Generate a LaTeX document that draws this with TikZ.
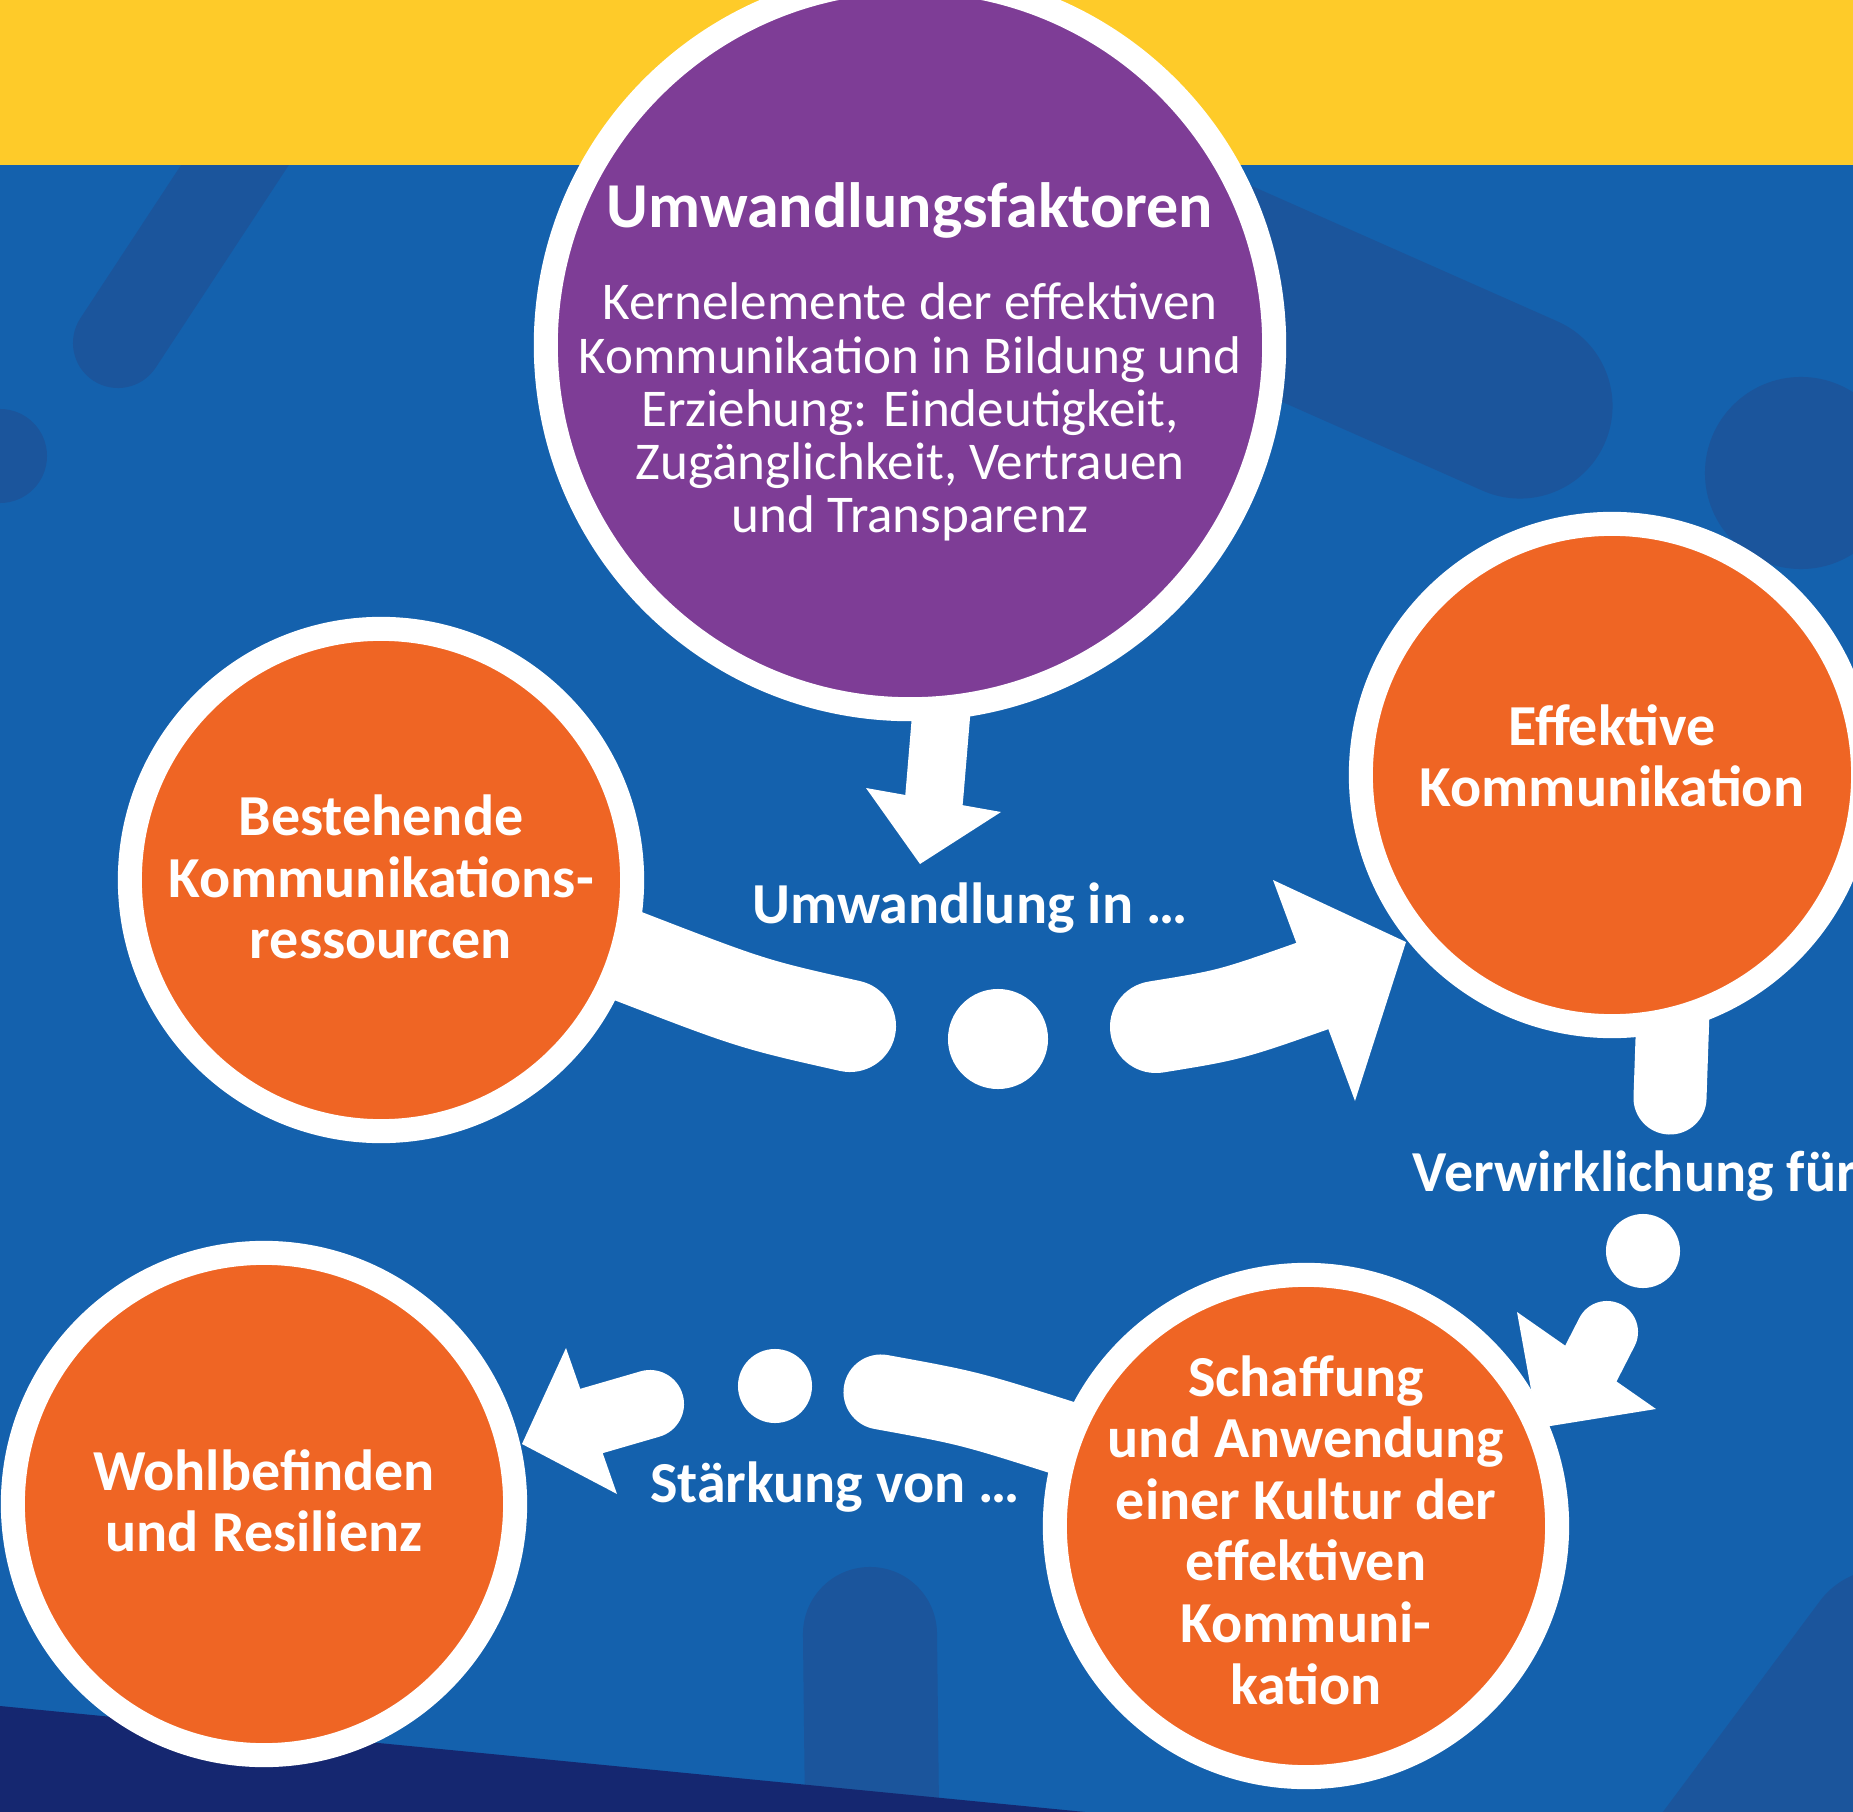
\documentclass[tikz,border=0pt]{standalone}
\usepackage{fontspec}
\setmainfont{Carlito}

\definecolor{sea}{HTML}{1461AD}
\definecolor{dusk}{HTML}{1B559C}
\definecolor{navy}{HTML}{152770}
\definecolor{sun}{HTML}{FECB29}
\definecolor{plum}{HTML}{7E3D96}
\definecolor{tangerine}{HTML}{EF6524}

\pgfdeclarelayer{deco}
\pgfdeclarelayer{flow}
\pgfsetlayers{deco,flow,main}

\begin{document}
\begin{tikzpicture}[x=0.01cm, y=-0.01cm,
  ring/.style={circle, draw=white, line width=0.24cm, fill=tangerine,
    inner sep=0pt, outer sep=0pt, minimum size=5.02cm},
  bigring/.style={ring, fill=plum, minimum size=7.28cm},
  lbl/.style={text=white, font=\bfseries\fontsize{16.5}{17.5}\selectfont,
    align=center, inner sep=0pt},
  titletext/.style={text=white, font=\bfseries\fontsize{18.2}{19}\selectfont, inner sep=0pt},
  bodytext/.style={text=white, font=\fontsize{15.1}{15.1}\selectfont,
    align=center, inner sep=0pt},
  band/.style={draw=dusk, line cap=round},
  shaft/.style={draw=white, line cap=round},
  blob/.style={circle, fill=white, inner sep=0pt, outer sep=0pt},
  head/.style={fill=white}
]
\useasboundingbox (0,0) rectangle (1853,1812);

% ---------- backdrop ----------
\begin{pgfonlayer}{deco}
  \fill[sea] (0,0) rectangle (1853,1812);
  \draw[band, line width=0.90cm] (118,343) -- (304,60);
  \fill[dusk] (0,456) circle[radius=0.47cm];
  \draw[band, line width=1.85cm] (1520,406) -- (1100,220);
  \fill[dusk] (1801,473) circle[radius=0.96cm];
  \draw[band, line width=1.34cm] (870,1634) -- (873,1900);
  \draw[band, line width=1.60cm] (1884,1649) -- (1651,1962);
  \fill[navy] (0,1706) -- (1085,1812) -- (0,1812) -- cycle;
  \fill[sun] (0,0) rectangle (1853,165);
\end{pgfonlayer}

% ---------- circles ----------
\node[bigring] (faktoren) at (910,345) {};
\node[ring] (bestand) at (381,880) {};
\node[ring] (effektiv) at (1612,775) {};
\node[ring] (kultur) at (1306,1526) {};
\node[ring] (wohl) at (264,1504) {};

\node[titletext, anchor=base] (faktorentitel) at (910,228) {Umwandlungsfaktoren};
\node[bodytext] (faktorentext) at (910,412)
  {Kernelemente der effektiven\\Kommunikation in Bildung und\\Erziehung: Eindeutigkeit,\\Zugänglichkeit, Vertrauen\\und Transparenz};

\node[lbl] (bestandtext) at (381,877) {Bestehende\\Kommunikations-\\ressourcen};
\node[lbl] (effektivtext) at (1612,756) {Effektive\\Kommunikation};
\node[lbl] (kulturtext) at (1306,1530)
  {Schaffung\\und Anwendung\\einer Kultur der\\effektiven\\Kommuni-\\kation};
\node[lbl] (wohltext) at (264,1501) {Wohlbefinden\\und Resilienz};

% ---------- connector captions ----------
\node[lbl, anchor=base] (umwandlung) at (970,923) {Umwandlung in …};
\node[lbl, anchor=base west] (verwirklichung) at (1412,1191) {Verwirklichung für};
\node[lbl, anchor=base] (staerkung) at (835,1502) {Stärkung von …};

% ---------- dots between the strokes ----------
\node[blob, minimum size=1.00cm] (dotA) at (998,1039) {};
\node[blob, minimum size=0.74cm] (dotB) at (1643,1251) {};
\node[blob, minimum size=0.74cm] (dotC) at (775,1386) {};

% ---------- connectors ----------
\coordinate (a1end) at (934,800);
\coordinate (a1l) at (866,788);
\coordinate (a1t) at (920,864);
\coordinate (a1r) at (1001,812);

\coordinate (a2mid) at (850,1026);
\coordinate (a2start) at (1156,1027);
\coordinate (a2end) at (1318,984);
\coordinate (a2l) at (1273,880);
\coordinate (a2t) at (1406,942);
\coordinate (a2r) at (1355,1101);

\coordinate (a3mid) at (1670,1098);
\coordinate (a3start) at (1607,1332);
\coordinate (a3end) at (1585,1375);
\coordinate (a3l) at (1517,1312);
\coordinate (a3t) at (1538,1428);
\coordinate (a3r) at (1656,1409);

\coordinate (a4mid) at (881,1392);
\coordinate (a4start) at (650,1404);
\coordinate (a4end) at (588,1422);
\coordinate (a4l) at (566,1348);
\coordinate (a4t) at (522,1444);
\coordinate (a4r) at (617,1494);

\begin{pgfonlayer}{flow}
  % Umwandlungsfaktoren -> Umwandlung
  \draw[shaft, line width=0.58cm] (faktoren.-85) -- (a1end);
  \fill[head] (a1l) -- (a1t) -- (a1r) -- cycle;

  % Bestehende Ressourcen -> Effektive Kommunikation
  \draw[shaft, line width=0.92cm] (bestand.-17) .. controls (752,1004) .. (a2mid);
  \draw[shaft, line width=0.92cm] (a2start) .. controls (1230,1015) .. (a2end);
  \fill[head] (a2l) -- (a2t) -- (a2r) -- cycle;

  % Effektive Kommunikation -> Kultur
  \draw[shaft, line width=0.73cm] (effektiv.-76) -- (a3mid);
  \draw[shaft, line width=0.62cm] (a3start) -- (a3end);
  \fill[head] (a3l) -- (a3t) -- (a3r) -- cycle;

  % Kultur -> Wohlbefinden
  \draw[shaft, line width=0.75cm] (kultur.160) .. controls (969,1408) .. (a4mid);
  \draw[shaft, line width=0.68cm] (a4start) -- (a4end);
  \fill[head] (a4l) -- (a4t) -- (a4r) -- cycle;
\end{pgfonlayer}
\end{tikzpicture}
\end{document}
